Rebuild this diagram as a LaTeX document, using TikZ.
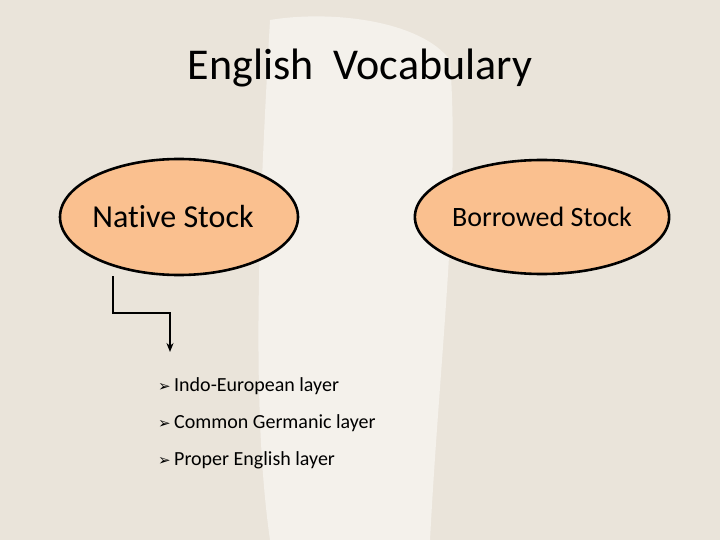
\documentclass[tikz,border=0pt]{standalone}
\usepackage{fontspec}
\setmainfont{Carlito}[Ligatures=NoCommon]
\newfontfamily\symfont{DejaVu Sans}
\usetikzlibrary{shapes.geometric,arrows.meta}
\definecolor{paper}{RGB}{234,228,218}
\definecolor{paperlight}{RGB}{244,241,235}
\definecolor{peach}{RGB}{250,192,143}
\tikzset{
  stock/.style={ellipse, draw=black, line width=2.6pt, fill=peach, inner sep=0pt},
  bulletitem/.style={anchor=west, font=\fontsize{20}{22}\selectfont, inner sep=0pt},
  conn/.style={draw=black, line width=2.6pt, -{Stealth[length=9pt,width=7pt]}}
}
\newcommand{\arrbullet}{\makebox[16pt][l]{{\symfont\fontsize{15}{16}\selectfont ➢}}}
\begin{document}
\begin{tikzpicture}[x=1pt,y=-1pt]
\fill[paper] (0,0) rectangle (720,540);
\useasboundingbox (0,0) rectangle (720,540);
\fill[paperlight] (270,20) .. controls (330,10) and (420,20) .. (450,60) .. controls (460,200) and (440,350) .. (430,540) -- (270,540) .. controls (250,400) and (260,200) .. (270,20) -- cycle;
\node[font=\fontsize{44}{48}\selectfont] (title) at (360,68) {English\ \ Vocabulary};
\node[stock, minimum width=238pt, minimum height=116pt] (native) at (179,217) {};
\node[font=\fontsize{32}{34}\selectfont, inner sep=0pt] (nativetext) at (173,217) {Native Stock};
\node[stock, minimum width=250pt, minimum height=114pt, font=\fontsize{28}{30}\selectfont] (borrowed) at (542,217) {Borrowed Stock};
\coordinate (tip) at (170,352);
\draw[conn] (native.south -| 113,0) |- (170,313) -- (tip);
\node[bulletitem] (b1) at (158,386) {\arrbullet Indo-European layer};
\node[bulletitem] (b2) at (158,423) {\arrbullet Common Germanic layer};
\node[bulletitem] (b3) at (158,460) {\arrbullet Proper English layer};
\end{tikzpicture}
\end{document}
